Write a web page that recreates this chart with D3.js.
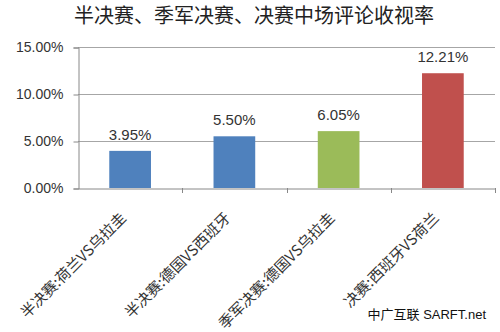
<!DOCTYPE html>
<html><head><meta charset="utf-8">
<script src="https://cdn.jsdelivr.net/npm/d3@7"></script>
<style>body{margin:0;background:#fff}svg{display:block}</style>
</head><body>
<svg id="c" width="500" height="332"></svg>
<script>
const title = "半决赛、季军决赛、决赛中场评论收视率";
const categories = ["半决赛:荷兰VS乌拉圭", "半决赛:德国VS西班牙", "季军决赛:德国VS乌拉圭", "决赛:西班牙VS荷兰"];
const values = [3.95, 5.50, 6.05, 12.21];
const colors = ["#4F81BD", "#4F81BD", "#9BBB59", "#C0504D"];
const yTicks = [0, 5, 10, 15];
const watermark = "中广互联 SARFT.net";

(function () {
const svg = d3.select("#c");
const pL = 78, pR = 495, pT = 47, pB = 188;
const x = d3.scaleBand().domain(categories).range([pL, pR]).paddingInner(0.6).paddingOuter(0.3);
const xb = d3.scaleBand().domain(categories).range([pL, pR]);
const y = d3.scaleLinear().domain([0, 15]).range([pB, pT]);

svg.append("text").attr("x", 254).attr("y", 23).attr("text-anchor", "middle")
  .attr("font-family", "'Noto Sans CJK SC'").attr("font-size", 20).attr("font-weight", 400)
  .attr("fill", "#222").text(title);

svg.append("g").selectAll("line").data(yTicks.filter(d => d > 0)).join("line")
  .attr("x1", pL).attr("x2", pR).attr("y1", d => y(d) + 0.5).attr("y2", d => y(d) + 0.5)
  .attr("stroke", "#a6a6a6").attr("stroke-width", 1);

const yAxis = d3.axisLeft(y).tickValues(yTicks).tickFormat(d => d.toFixed(2) + "%").tickSize(5).tickPadding(10);
const gy = svg.append("g").attr("transform", `translate(${pL + 0.5},0.5)`).call(yAxis);
gy.select(".domain").attr("stroke", "#888");
gy.selectAll(".tick line").attr("stroke", "#888");
gy.selectAll(".tick text").attr("font-family", "'Liberation Sans', Arial, sans-serif").attr("font-size", 14).attr("fill", "#333");

svg.append("g").selectAll("rect").data(values).join("rect")
  .attr("x", (d, i) => x(categories[i])).attr("width", x.bandwidth())
  .attr("y", d => y(d)).attr("height", d => pB - y(d))
  .attr("fill", (d, i) => colors[i]);

svg.append("g").selectAll("text").data(values).join("text")
  .attr("x", (d, i) => x(categories[i]) + x.bandwidth() / 2).attr("y", d => y(d) - 11)
  .attr("text-anchor", "middle").attr("font-family", "'Liberation Sans', Arial, sans-serif")
  .attr("font-size", 15).attr("fill", "#333").text(d => d.toFixed(2) + "%");

const xAxis = d3.axisBottom(xb).tickSize(0).tickFormat("");
const gx = svg.append("g").attr("transform", `translate(0,${pB + 0.5})`).call(xAxis);
gx.select(".domain").attr("stroke", "#888");
svg.append("g").selectAll("line").data(categories.map(c => xb(c) + xb.bandwidth())).join("line")
  .attr("x1", d => Math.round(d) + 0.5).attr("x2", d => Math.round(d) + 0.5)
  .attr("y1", pB).attr("y2", pB + 5).attr("stroke", "#888");

svg.append("g").selectAll("text").data(categories).join("text")
  .attr("transform", c => `translate(${xb(c) + xb.bandwidth() / 2 - 3},${pB + 31}) rotate(-45)`)
  .attr("text-anchor", "end").attr("font-family", "'Noto Sans CJK SC'").attr("font-size", 15)
  .attr("fill", "#333").text(c => c);

svg.append("text").attr("x", 486).attr("y", 319).attr("text-anchor", "end")
  .attr("font-family", "'Liberation Sans', 'Noto Sans CJK SC'").attr("font-size", 13).attr("fill", "#111").text(watermark);
})();
</script>
</body></html>
